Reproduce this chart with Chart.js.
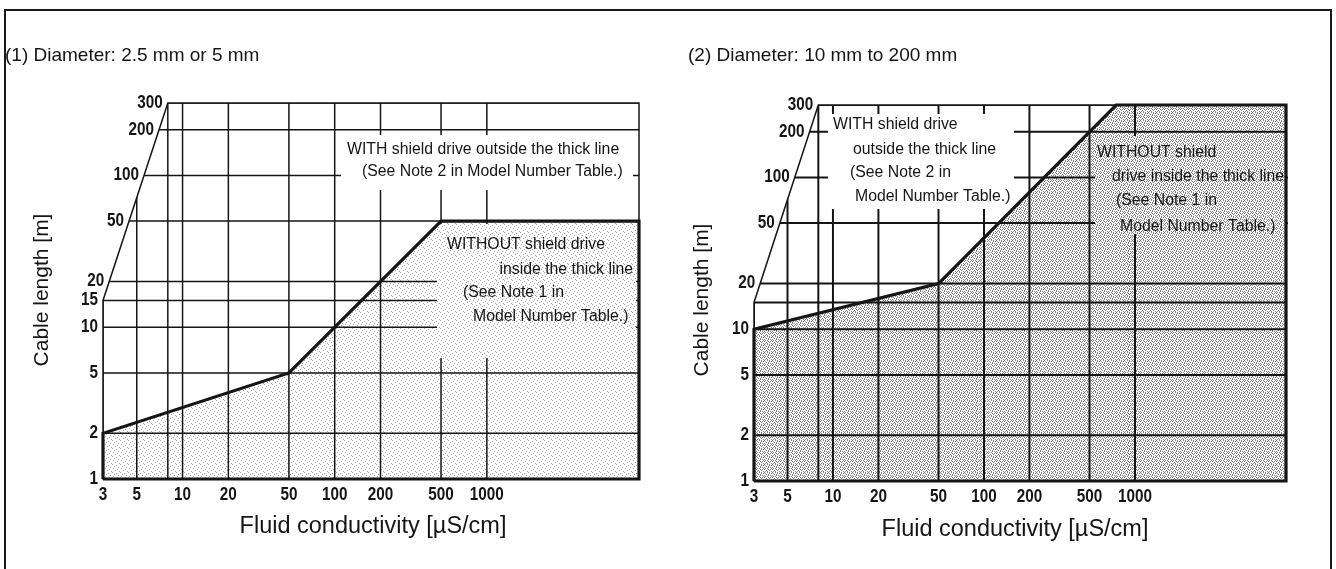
<!DOCTYPE html>
<html>
<head>
<meta charset="utf-8">
<style>
  html, body { margin: 0; padding: 0; background: #fff; }
  #page { position: relative; width: 1336px; height: 569px; overflow: hidden; }
  #frame { position: absolute; left: 4px; top: 9px; width: 1324px; height: 620px;
           border: 2px solid #1a1a1a; border-bottom: none; }
  .panel { position: absolute; top: 0; width: 668px; height: 569px; }
</style>
<script src="https://cdn.jsdelivr.net/npm/chart.js"></script>
</head>
<body>
<div id="page">
  <div id="frame"></div>
  <div class="panel" style="left:0"><canvas id="chart1" width="668" height="569"></canvas></div>
  <div class="panel" style="left:668px"><canvas id="chart2" width="668" height="569"></canvas></div>
</div>

<script>
    // grid values shared by both sheets (log-log paper)
    const gridX = [3, 5, 8, 10, 20, 50, 100, 200, 500, 1000];
    const gridY = [1, 2, 5, 10, 15, 20, 50, 100, 200, 300];
    const tickX = [3, 5, 10, 20, 50, 100, 200, 500, 1000];
    const tickY1 = [1, 2, 5, 10, 15, 20, 50, 100, 200, 300];
    const tickY2 = [1, 2, 5, 10, 20, 50, 100, 200, 300];

    // outline of the paper: left edge slants above 15 m
    const frameX = [3, 3, 8, 10000, 10000];
    const frameY = [1, 15, 300, 300, 1];

    // thick limit line (1) diameter 2.5 mm or 5 mm
    const limit1X = [3, 50, 500, 10000];
    const limit1Y = [2, 5, 50, 50];

    // thick limit line (2) diameter 10 mm to 200 mm
    const limit2X = [3, 50, 750, 10000];
    const limit2Y = [10, 20, 300, 300];

    const INK = '#151515';
    const TICK_FONT = 'bold 18px "Liberation Sans", Arial, sans-serif';
    const NOTE_FONT = '15.8px "Liberation Sans", Arial, sans-serif';

    function stipple(mask, color) {
        const c = document.createElement('canvas');
        c.width = mask[0].length;
        c.height = mask.length;
        const g = c.getContext('2d');
        g.fillStyle = color;
        mask.forEach((row, j) => {
            [...row].forEach((ch, i) => {
                if (ch === 'x') g.fillRect(i, j, 1, 1);
            });
        });
        return g.createPattern(c, 'repeat');
    }

    const lightDots = stipple([
        'x.......',
        '....x...',
        '..x.....',
        '......x.',
        '.x......',
        '.....x..',
        '...x....',
        '.......x'
    ], '#a0a0a0');

    const denseDots = stipple([
        'x..x.x..',
        '.x...x.x',
        '..x.x...',
        'x...x.x.',
        '.x.x...x',
        'x...x.x.',
        '..x..x..',
        '.x.x...x'
    ], '#808080');

    // narrow numerals like the printed sheet
    function narrowText(ctx, text, x, y) {
        ctx.save();
        ctx.translate(x, y);
        ctx.scale(0.85, 1);
        ctx.fillText(text, 0, 0);
        ctx.restore();
    }

    const sheetPlugin = {
        id: 'sheet',
        beforeDatasetsDraw(chart) {
            const { ctx, chartArea: area } = chart;
            const xs = chart.scales.x, ys = chart.scales.y;
            const s = chart.options.plugins.sheet;
            const px = v => xs.getPixelForValue(v);
            const py = v => ys.getPixelForValue(v);

            const framePts = frameX.map((v, i) => [px(v), py(frameY[i])]);

            // grid, clipped to paper and broken by the note boxes
            ctx.save();
            ctx.beginPath();
            framePts.forEach(([x, y], i) => i ? ctx.lineTo(x, y) : ctx.moveTo(x, y));
            ctx.closePath();
            s.boxes.forEach(([x1, y1, x2, y2]) => ctx.rect(x1, y1, x2 - x1, y2 - y1));
            ctx.clip('evenodd');
            ctx.strokeStyle = INK;
            ctx.lineWidth = s.gridWidth;
            ctx.beginPath();
            gridX.forEach(v => { ctx.moveTo(px(v), area.top - 4); ctx.lineTo(px(v), area.bottom + 4); });
            gridY.forEach(v => { ctx.moveTo(area.left - 4, py(v)); ctx.lineTo(area.right + 4, py(v)); });
            ctx.stroke();
            ctx.restore();

            // paper outline
            ctx.save();
            ctx.strokeStyle = INK;
            ctx.lineWidth = 1.5;
            ctx.beginPath();
            framePts.forEach(([x, y], i) => i ? ctx.lineTo(x, y) : ctx.moveTo(x, y));
            ctx.closePath();
            ctx.stroke();

            // tick labels
            ctx.fillStyle = INK;
            ctx.font = TICK_FONT;
            ctx.textAlign = 'center';
            ctx.textBaseline = 'middle';
            tickX.forEach(v => narrowText(ctx, String(v), px(v), area.bottom + 16));

            const [a, b] = [framePts[1], framePts[2]];
            ctx.textAlign = 'right';
            s.tickY.forEach(v => {
                const y = py(v);
                let x = area.left;
                if (v > frameY[1]) x = a[0] + (y - a[1]) / (b[1] - a[1]) * (b[0] - a[0]);
                narrowText(ctx, String(v), x - 5, y);
            });

            // notes
            ctx.font = NOTE_FONT;
            s.notes.forEach(([text, x, y, align]) => {
                ctx.textAlign = align || 'left';
                ctx.fillText(text, x, y);
            });

            // titles
            ctx.textAlign = 'left';
            ctx.font = '19px "Liberation Sans", Arial, sans-serif';
            ctx.fillText(s.title, s.titlePos[0], s.titlePos[1]);

            ctx.font = '23.5px "Liberation Sans", Arial, sans-serif';
            ctx.textAlign = 'center';
            ctx.fillText('Fluid conductivity [µS/cm]', s.xTitlePos[0], s.xTitlePos[1]);

            ctx.translate(s.yTitlePos[0], s.yTitlePos[1]);
            ctx.rotate(-Math.PI / 2);
            ctx.font = '21px "Liberation Sans", Arial, sans-serif';
            ctx.fillText('Cable length [m]', 0, 0);
            ctx.restore();
        }
    };

    function makeSheet(id, limitX, limitY, sheet, pad, dots) {
        const limit = limitX.map((x, i) => ({ x, y: limitY[i] }));
        const xMin = frameX[0], xMax = frameX[3], yMin = frameY[0], yMax = frameY[2];
        const outline = [{ x: xMin, y: yMin }, ...limit, { x: xMax, y: yMin }, { x: xMin, y: yMin }];

        return new Chart(document.getElementById(id), {
            type: 'scatter',
            data: {
                datasets: [
                    {
                        data: limit,
                        showLine: true,
                        fill: 'start',
                        backgroundColor: dots,
                        borderColor: 'transparent',
                        borderWidth: 0,
                        pointRadius: 0
                    },
                    {
                        data: outline,
                        showLine: true,
                        fill: false,
                        borderColor: INK,
                        borderWidth: 3.2,
                        pointRadius: 0,
                        clip: 6
                    }
                ]
            },
            options: {
                responsive: false,
                animation: false,
                events: [],
                layout: { padding: pad },
                scales: {
                    x: { type: 'logarithmic', min: xMin, max: xMax, display: false },
                    y: { type: 'logarithmic', min: yMin, max: yMax, display: false }
                },
                plugins: {
                    legend: { display: false },
                    tooltip: { enabled: false },
                    filler: { drawTime: 'beforeDatasetsDraw' },
                    sheet
                }
            },
            plugins: [sheetPlugin]
        });
    }

    makeSheet('chart1', limit1X, limit1Y, {
        tickY: tickY1,
        gridWidth: 1.5,
        boxes: [[341, 135, 633, 190], [437, 224, 636, 358]],
        notes: [
            ['WITH shield drive outside the thick line', 347, 150],
            ['(See Note 2 in Model Number Table.)', 362, 172],
            ['WITHOUT shield drive', 447, 245],
            ['inside the thick line', 633, 270, 'right'],
            ['(See Note 1 in', 463, 293],
            ['Model Number Table.)', 473, 317]
        ],
        title: '(1) Diameter: 2.5 mm or 5 mm',
        titlePos: [5, 56],
        xTitlePos: [373, 527],
        yTitlePos: [42, 290]
    }, { left: 103, right: 29, top: 103, bottom: 90 }, lightDots);

    makeSheet('chart2', limit2X, limit2Y, {
        tickY: tickY2,
        gridWidth: 2,
        boxes: [[160, 114, 346, 209], [427, 136, 620, 234]],
        notes: [
            ['WITH shield drive', 165, 125],
            ['outside the thick line', 185, 150],
            ['(See Note 2 in', 182, 173],
            ['Model Number Table.)', 187, 197],
            ['WITHOUT shield', 429, 153],
            ['drive inside the thick line', 444, 177],
            ['(See Note 1 in', 448, 201],
            ['Model Number Table.)', 452, 227]
        ],
        title: '(2) Diameter: 10 mm to 200 mm',
        titlePos: [20, 56],
        xTitlePos: [347, 530],
        yTitlePos: [34, 300]
    }, { left: 86, right: 50, top: 105, bottom: 88 }, denseDots);
</script>
</body>
</html>
